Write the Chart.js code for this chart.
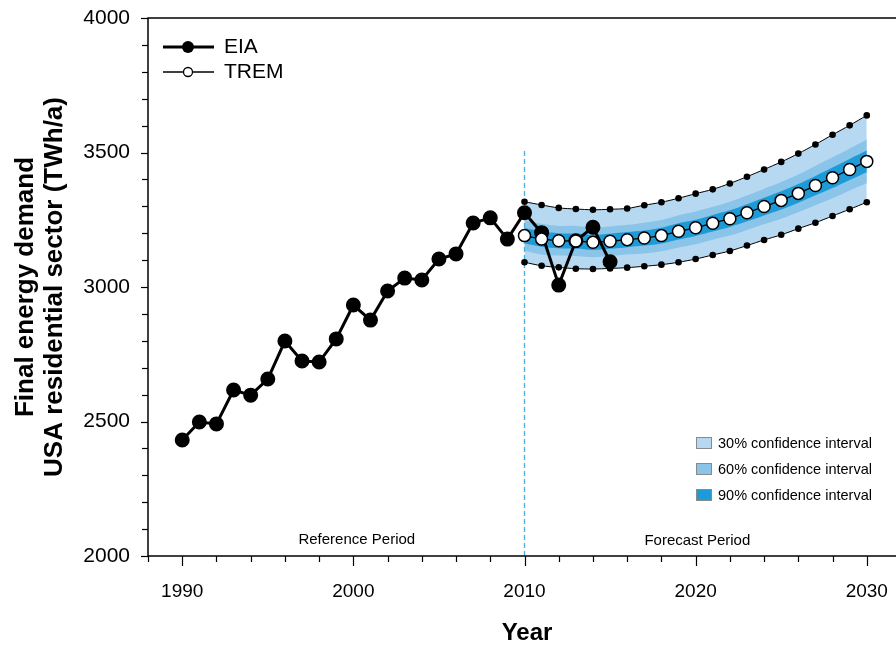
<!DOCTYPE html>
<html>
<head>
<meta charset="utf-8">
<title>Final energy demand, USA residential sector</title>
<script src="https://cdn.jsdelivr.net/npm/chart.js@4/dist/chart.umd.min.js"></script>
<style>
  html, body { margin: 0; padding: 0; background: #fff; overflow: hidden; }
  #wrap { width: 910px; height: 645px; }
</style>
</head>
<body>
<div id="wrap"><canvas id="c" width="910" height="645"></canvas></div>
<script>
// Historical demand (EIA), TWh/a
const eiaYears = [1990,1991,1992,1993,1994,1995,1996,1997,1998,1999,2000,2001,2002,2003,2004,2005,2006,2007,2008,2009,2010,2011,2012,2013,2014,2015];
const eiaValues = [2431,2498,2491,2617,2598,2658,2799,2725,2721,2807,2933,2877,2985,3033,3026,3104,3123,3238,3257,3178,3276,3202,3007,3172,3222,3094];

// TREM forecast and its bounds, TWh/a
const tremYears = [2010,2011,2012,2013,2014,2015,2016,2017,2018,2019,2020,2021,2022,2023,2024,2025,2026,2027,2028,2029,2030];
const tremValues = [3191,3178,3172,3171,3166,3170,3176,3182,3191,3207,3220,3237,3254,3276,3299,3322,3348,3377,3406,3437,3467];
const upperBound = [3317,3305,3294,3290,3287,3289,3292,3304,3315,3330,3347,3363,3385,3410,3437,3465,3496,3530,3566,3601,3638];
const lowerBound = [3092,3079,3073,3068,3067,3069,3072,3077,3083,3092,3104,3119,3134,3154,3175,3194,3217,3239,3264,3289,3315];

// Inner confidence bands
const band60Upper = [3247,3235,3227,3227,3221,3225,3231,3239,3249,3267,3281,3298,3317,3340,3365,3390,3418,3450,3482,3515,3548];
const band60Lower = [3135,3121,3117,3115,3111,3115,3121,3125,3133,3147,3159,3176,3191,3212,3233,3254,3278,3304,3330,3359,3386];
const band90Upper = [3219,3206,3200,3199,3194,3198,3204,3210,3220,3237,3250,3268,3285,3308,3332,3356,3383,3413,3444,3476,3507];
const band90Lower = [3163,3150,3144,3143,3138,3142,3148,3154,3162,3177,3190,3206,3223,3244,3266,3288,3313,3341,3368,3398,3427];

// Start of the forecast period
const forecastStart = 2010;
const dividerTop = 3510;

// Axis ticks
const yLabelStep = 500;
const xLabelStep = 10;

const bandLabels = ['30% confidence interval', '60% confidence interval', '90% confidence interval'];
const colLight = '#b6d9f1';
const colMid = '#8bc4e9';
const colDark = '#1e9ad6';

const pts = (xs, ys) => xs.map((x, i) => ({ x: x, y: ys[i] }));

const FONT = '"Liberation Sans", Arial, Helvetica, sans-serif';

const bandDs = (vals, color, order, fill) => ({
  data: pts(tremYears, vals),
  borderWidth: 0,
  borderColor: 'rgba(0,0,0,0)',
  backgroundColor: color,
  pointRadius: 0,
  fill: fill,
  order: order,
  tension: 0.3
});

// keep the plot frame exactly where the layout padding puts it
const noScalePadding = s => {
  s.paddingLeft = 0; s.paddingRight = 0; s.paddingTop = 0; s.paddingBottom = 0;
};

const decor = {
  id: 'decor',
  afterDatasetsDraw(chart) {
    const ctx = chart.ctx;
    const a = chart.chartArea;
    const xs = chart.scales.x, ys = chart.scales.y;
    ctx.save();
    ctx.strokeStyle = '#000';
    ctx.lineWidth = 1.5;
    ctx.strokeRect(a.left, a.top, a.right - a.left, a.bottom - a.top);
    // y ticks
    ctx.lineWidth = 1.2;
    for (let v = ys.min; v <= ys.max; v += 100) {
      const y = Math.round(ys.getPixelForValue(v)) + 0.5;
      const len = (v % yLabelStep === 0) ? 7 : 6;
      ctx.beginPath(); ctx.moveTo(a.left - len, y); ctx.lineTo(a.left, y); ctx.stroke();
    }
    // x ticks
    for (let v = xs.min; v <= xs.max; v += 2) {
      const x = Math.round(xs.getPixelForValue(v)) + 0.5;
      const len = (v % xLabelStep === 0) ? 10 : 6;
      ctx.beginPath(); ctx.moveTo(x, a.bottom); ctx.lineTo(x, a.bottom + len); ctx.stroke();
    }
    ctx.restore();
  },
  afterDraw(chart) {
    const ctx = chart.ctx;
    const a = chart.chartArea;
    const xs = chart.scales.x;
    ctx.save();
    ctx.fillStyle = '#000';
    // y axis title
    ctx.save();
    ctx.translate(0, (a.top + a.bottom) / 2);
    ctx.rotate(-Math.PI / 2);
    ctx.font = 'bold 26px ' + FONT;
    ctx.textAlign = 'center';
    ctx.textBaseline = 'middle';
    ctx.fillText('Final energy demand', 0, 26);
    ctx.fillText('USA residential sector (TWh/a)', 0, 55);
    ctx.restore();
    // x axis title
    ctx.font = 'bold 24px ' + FONT;
    ctx.textAlign = 'center';
    ctx.textBaseline = 'middle';
    ctx.fillText('Year', 527, 633);
    // period labels
    ctx.font = '15px ' + FONT;
    ctx.fillText('Reference Period', xs.getPixelForValue(2000.2), a.bottom - 16);
    ctx.fillText('Forecast Period', xs.getPixelForValue(2020.1), a.bottom - 15);
    // series legend
    ctx.textAlign = 'left';
    ctx.font = '21px ' + FONT;
    ctx.strokeStyle = '#000';
    ctx.lineWidth = 3;
    ctx.beginPath(); ctx.moveTo(163, 47); ctx.lineTo(214, 47); ctx.stroke();
    ctx.beginPath(); ctx.arc(188, 47, 6, 0, Math.PI * 2); ctx.fill();
    ctx.fillText('EIA', 224, 47);
    ctx.lineWidth = 1.3;
    ctx.beginPath(); ctx.moveTo(163, 72); ctx.lineTo(214, 72); ctx.stroke();
    ctx.beginPath(); ctx.arc(188, 72, 4.5, 0, Math.PI * 2);
    ctx.fillStyle = '#fff'; ctx.fill(); ctx.stroke();
    ctx.fillStyle = '#000';
    ctx.fillText('TREM', 224, 72);
    // band legend
    const cols = [colLight, colMid, colDark];
    ctx.font = '14.5px ' + FONT;
    ctx.lineWidth = 1;
    ctx.strokeStyle = '#8a8a8a';
    bandLabels.forEach((t, i) => {
      const yc = 443 + i * 26;
      ctx.fillStyle = cols[i];
      ctx.fillRect(696, yc - 6, 16, 12);
      ctx.strokeRect(696.5, yc - 5.5, 15, 11);
      ctx.fillStyle = '#000';
      ctx.fillText(t, 718, yc + 1);
    });
    ctx.restore();
  }
};

new Chart(document.getElementById('c'), {
  type: 'line',
  data: {
    datasets: [
      { label: 'TREM', data: pts(tremYears, tremValues), borderColor: '#000', borderWidth: 1.3,
        pointRadius: 6, pointBackgroundColor: '#fff', pointBorderColor: '#000', pointBorderWidth: 1.5, order: 0, fill: false },
      { label: 'EIA', data: pts(eiaYears, eiaValues), borderColor: '#000', borderWidth: 3,
        pointRadius: 6, pointBackgroundColor: '#000', pointBorderColor: '#000', order: 1, fill: false },
      { label: 'upper', data: pts(tremYears, upperBound), borderColor: '#000', borderWidth: 1,
        pointRadius: 3.3, pointBackgroundColor: '#000', pointBorderWidth: 0, order: 2, fill: false, tension: 0.3 },
      { label: 'lower', data: pts(tremYears, lowerBound), borderColor: '#000', borderWidth: 1,
        pointRadius: 3.3, pointBackgroundColor: '#000', pointBorderWidth: 0, order: 3, fill: false, tension: 0.3 },
      bandDs(band90Upper, colDark, 4, '+1'),
      bandDs(band90Lower, colDark, 5, false),
      bandDs(band60Upper, colMid, 6, '+1'),
      bandDs(band60Lower, colMid, 7, false),
      bandDs(upperBound, colLight, 8, '+1'),
      bandDs(lowerBound, colLight, 9, false),
      { label: 'divider', data: [{ x: forecastStart, y: 2000 }, { x: forecastStart, y: dividerTop }],
        borderColor: '#45aee0', borderWidth: 1.3, borderDash: [5, 3], pointRadius: 0, order: 10, fill: false }
    ]
  },
  options: {
    responsive: false,
    animation: false,
    layout: { padding: { left: 0, top: 18, right: 7, bottom: 0 } },
    plugins: {
      legend: { display: false },
      tooltip: { enabled: false },
      filler: { drawTime: 'beforeDatasetsDraw' }
    },
    scales: {
      x: {
        type: 'linear', min: 1988, max: 2032,
        grid: { display: false, drawTicks: false },
        border: { display: false },
        ticks: {
          stepSize: 2, autoSkip: false, maxRotation: 0, padding: 24,
          color: '#000', font: { family: FONT, size: 19 },
          callback: v => (v % xLabelStep === 0 ? String(v) : '')
        },
        afterFit: s => { s.height = 89; noScalePadding(s); }
      },
      y: {
        min: 2000, max: 4000,
        grid: { display: false, drawTicks: false },
        border: { display: false },
        ticks: {
          stepSize: 100, autoSkip: false, padding: 18,
          color: '#000', font: { family: FONT, size: 21 },
          callback: v => (v % yLabelStep === 0 ? String(v) : '')
        },
        afterFit: s => { s.width = 148; noScalePadding(s); }
      }
    }
  },
  plugins: [decor]
});
</script>
</body>
</html>
